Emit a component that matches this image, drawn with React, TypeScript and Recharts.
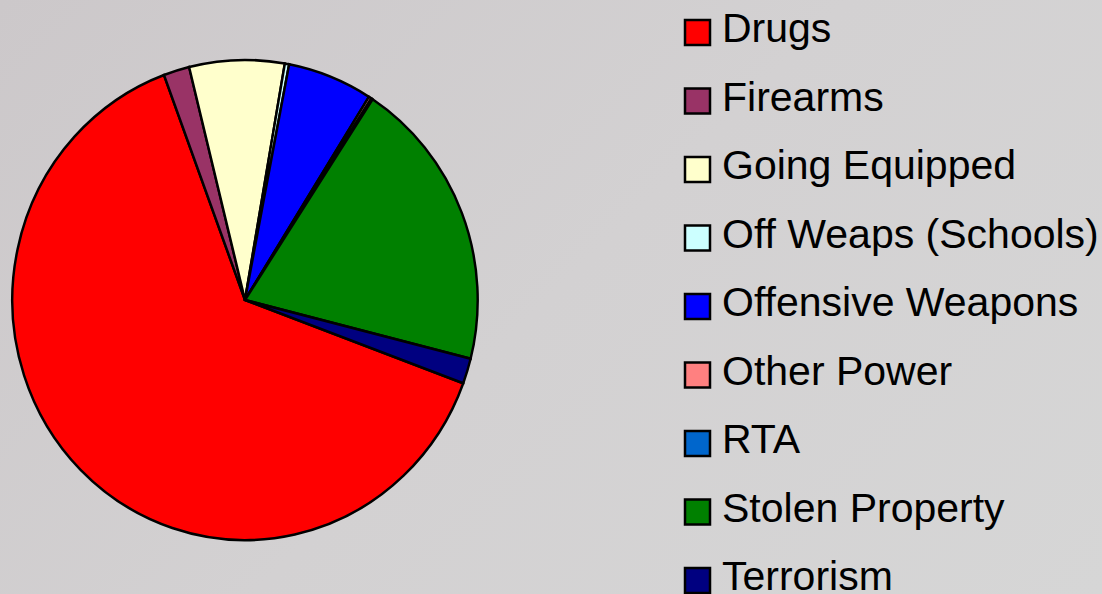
import { PieChart, Pie, Cell } from 'recharts';

const categories = [
  'Drugs',
  'Firearms',
  'Going Equipped',
  'Off Weaps (Schools)',
  'Offensive Weapons',
  'Other Power',
  'RTA',
  'Stolen Property',
  'Terrorism',
];

// approximate share per category (out of ~1000)
const values = [637, 18, 66, 3, 59, 2, 1, 197, 17];

const colors = [
  '#FF0000',
  '#993366',
  '#FFFFCC',
  '#CCFFFF',
  '#0000FF',
  '#FF8080',
  '#0066CC',
  '#008000',
  '#000080',
];

const data = categories.map((name, i) => ({ name, value: values[i] }));

const ROW_H = 68.5;
const FIRST_BASELINE = 42;

function LegendBox() {
  return (
    <svg
      width={1102}
      height={594}
      style={{ position: 'absolute', left: 0, top: 0, pointerEvents: 'none' }}
    >
      {categories.map((name, i) => {
        const base = FIRST_BASELINE + i * ROW_H;
        return (
          <g key={name}>
            <rect
              x={685}
              y={base - 22}
              width={25}
              height={25}
              fill={colors[i]}
              stroke="#000"
              strokeWidth={2.5}
            />
            <text
              x={722}
              y={base}
              fontFamily="'Liberation Sans', Arial, sans-serif"
              fontSize={41}
              fill="#000"
            >
              {name}
            </text>
          </g>
        );
      })}
    </svg>
  );
}

export default function App() {
  return (
    <div
      style={{
        position: 'absolute',
        left: 0,
        top: 0,
        width: 1102,
        height: 594,
        overflow: 'hidden',
        background: 'linear-gradient(135deg, #ccc8ca 0%, #d3d1d2 50%, #d6d6d6 100%)',
      }}
    >
      {/* the original pie is slightly taller than wide */}
      <div style={{ transform: 'scale(0.986, 1.017)', transformOrigin: '245px 300px' }}>
        <PieChart width={1102} height={594} margin={{ top: 0, right: 0, bottom: 0, left: 0 }}>
          <Pie
            data={data}
            dataKey="value"
            nameKey="name"
            cx={245}
            cy={300}
            outerRadius={236}
            startAngle={-20.3}
            endAngle={-380.3}
            stroke="#000"
            strokeWidth={2.5}
            isAnimationActive={false}
            label={false}
            labelLine={false}
          >
            {data.map((d, i) => (
              <Cell key={d.name} fill={colors[i]} />
            ))}
          </Pie>
        </PieChart>
      </div>
      <LegendBox />
    </div>
  );
}
